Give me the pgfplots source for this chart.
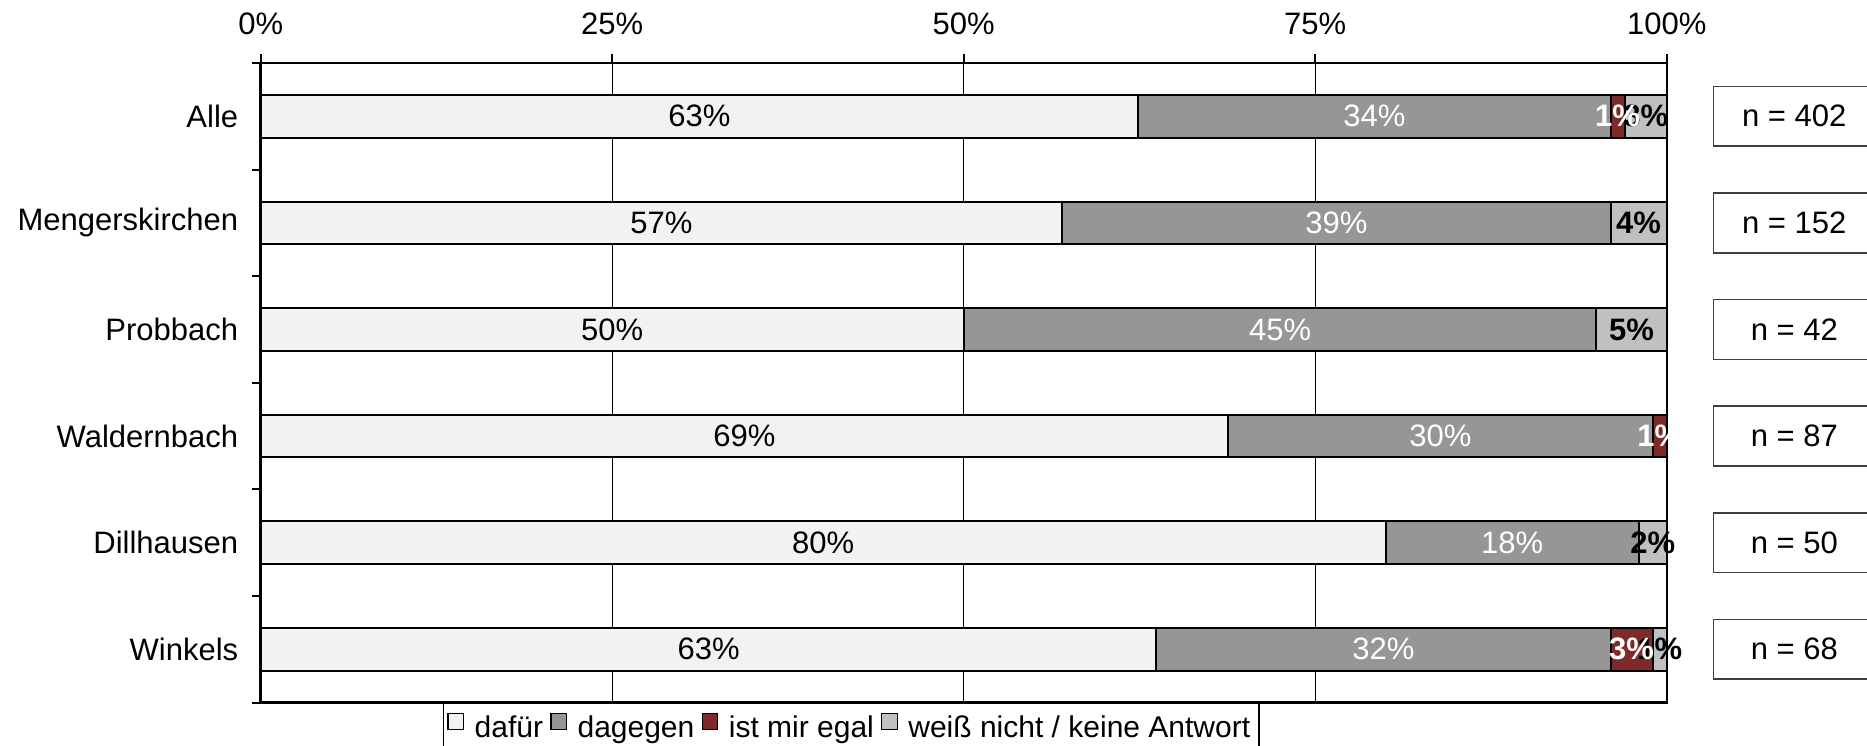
\documentclass[border=0pt]{standalone}
\usepackage{fontspec}
\setmainfont{Liberation Sans}
\usepackage{pgfplots}
\pgfplotsset{compat=1.18}

\definecolor{cFuer}{HTML}{F2F2F2}
\definecolor{cGegen}{HTML}{969696}
\definecolor{cEgal}{HTML}{7F2A2A}
\definecolor{cWeiss}{HTML}{C0C0C0}
\newcommand{\lbl}{\fontsize{12.4}{14}\selectfont}

\begin{document}
\begin{tikzpicture}
\begin{axis}[
    at={(0,0)}, anchor=south west,
    scale only axis,
    width=562.4pt, height=255.8pt,
    xbar stacked,
    bar width=0.4,
    xmin=0, xmax=100,
    ymin=-0.5, ymax=5.5,
    y dir=reverse,
    xtick={0,25,50,75,100},
    xticklabels={0\%,25\%,50\%,75\%,100\%},
    xtick pos=right, xticklabel pos=right,
    ytick={-0.5,0.5,...,5.5},
    yticklabel=\empty,
    ytick pos=left,
    extra y ticks={0,1,2,3,4,5},
    extra y tick labels={Alle,Mengerskirchen,Probbach,Waldernbach,Dillhausen,Winkels},
    extra y tick style={major tick length=0pt},
    tick align=outside,
    major tick length=3.5pt,
    xmajorgrids,
    major grid style={black, line width=0.55pt},
    axis line style={line width=1pt},
    tick style={black, line width=0.8pt},
    tick label style={font=\lbl},
    yticklabel style={xshift=-5.5pt},
    xticklabel style={yshift=4.4pt},
    clip=false,
    nodes near coords,
    point meta=explicit symbolic,
    every node near coord/.append style={font=\lbl, anchor=center},
    legend columns=-1,
    legend style={at={(0.1296,0)}, anchor=north west, draw=black, line width=0.6pt,
        font=\fontsize{12}{14}\selectfont, inner xsep=1.5pt, inner ysep=3pt,
        /tikz/every odd column/.append style={column sep=2.2pt},
        /tikz/every even column/.append style={column sep=0.9pt}},
    legend image code/.code={\draw[#1, draw=black, line width=0.5pt] (0pt,-0.5pt) rectangle (6.2pt,6pt);},
]
\addplot[fill=cFuer, draw=black, line width=0.8pt,
    every node near coord/.append style={text=black}]
    coordinates {(62.4,0) [63\%] (57.0,1) [57\%] (50.0,2) [50\%] (68.8,3) [69\%] (80.0,4) [80\%] (63.7,5) [63\%]};
\addlegendentry{dafür}
\addplot[fill=cGegen, draw=black, line width=0.8pt,
    every node near coord/.append style={text=white}]
    coordinates {(33.6,0) [34\%] (39.0,1) [39\%] (45.0,2) [45\%] (30.2,3) [30\%] (18.0,4) [18\%] (32.3,5) [32\%]};
\addlegendentry{dagegen}
\addplot[fill=cEgal, draw=black, line width=0.8pt,
    every node near coord/.append style={text=white, font=\lbl\bfseries}]
    coordinates {(1.0,0) [1\%] (0,1) [] (0,2) [] (1.0,3) [1\%] (0,4) [] (3.0,5) [3\%]};
\addlegendentry{ist mir egal}
\addplot[fill=cWeiss, draw=black, line width=0.8pt,
    every node near coord/.append style={text=black, font=\lbl\bfseries}]
    coordinates {(3.0,0) [3\%] (4.0,1) [4\%] (5.0,2) [5\%] (0,3) [] (2.0,4) [2\%] (1.0,5) [1\%]};
\addlegendentry{weiß nicht / keine Antwort}

\node[draw=black!75, line width=0.6pt, fill=white, minimum width=64.8pt, minimum height=23.9pt, font=\lbl, inner sep=0pt] at (axis cs:109.07,0) {n = 402};
\node[draw=black!75, line width=0.6pt, fill=white, minimum width=64.8pt, minimum height=23.9pt, font=\lbl, inner sep=0pt] at (axis cs:109.07,1) {n = 152};
\node[draw=black!75, line width=0.6pt, fill=white, minimum width=64.8pt, minimum height=23.9pt, font=\lbl, inner sep=0pt] at (axis cs:109.07,2) {n = 42};
\node[draw=black!75, line width=0.6pt, fill=white, minimum width=64.8pt, minimum height=23.9pt, font=\lbl, inner sep=0pt] at (axis cs:109.07,3) {n = 87};
\node[draw=black!75, line width=0.6pt, fill=white, minimum width=64.8pt, minimum height=23.9pt, font=\lbl, inner sep=0pt] at (axis cs:109.07,4) {n = 50};
\node[draw=black!75, line width=0.6pt, fill=white, minimum width=64.8pt, minimum height=23.9pt, font=\lbl, inner sep=0pt] at (axis cs:109.07,5) {n = 68};
\end{axis}
\pgfresetboundingbox
\path[use as bounding box] (-104.3pt,-17pt) rectangle (642.5pt,281pt);
\end{tikzpicture}
\end{document}
